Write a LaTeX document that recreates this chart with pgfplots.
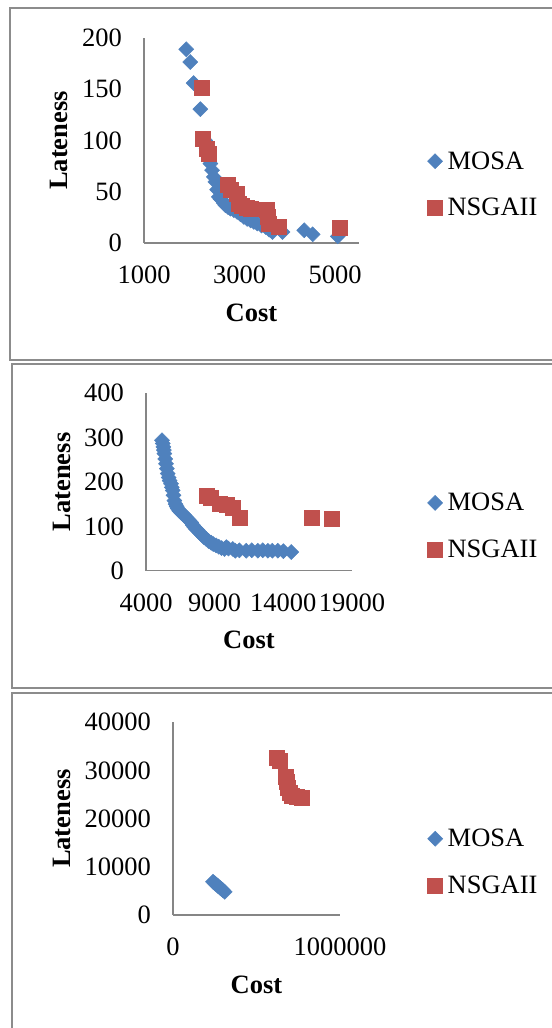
\documentclass[border=0pt]{standalone}
\usepackage{fontspec}
\setmainfont{Liberation Serif}
\usepackage{pgfplots}
\pgfplotsset{compat=1.18}
\definecolor{mosa}{HTML}{4F81BD}
\definecolor{nsga}{HTML}{C0504D}
\definecolor{axgray}{HTML}{868686}
\definecolor{framegray}{HTML}{8C8C8C}
\pgfplotsset{
 myaxis/.style={
  scale only axis, anchor=south west,
  axis lines*=left, axis line style={axgray, line width=1.5bp, -},
  major tick length=0pt,
  font=\fontsize{26.5bp}{31bp}\selectfont,
  /pgf/number format/assume math mode=true,
  scaled ticks=false,
  yticklabel style={anchor=east, inner sep=0pt, xshift=-22bp},
  xticklabel style={anchor=center, inner sep=0pt, yshift=-32bp},
  xlabel={Cost}, ylabel={Lateness},
  label style={font=\fontsize{26.5bp}{31bp}\selectfont\bfseries},
  clip=false,
  legend style={draw=none, fill=none, anchor=west, inner sep=0pt, row sep=27.5bp,
    nodes={inner sep=0pt}, /tikz/every odd column/.style={column sep=5bp}},
  legend cell align=left,
  legend image code/.code={\draw[mark repeat=1,#1] plot coordinates {(0bp,0bp)};},
 },
 mosa/.style={only marks, mark=square*, mark size=5.3bp, mark options={rotate=45, fill=mosa, draw=mosa, line width=0.5bp}},
 nsga/.style={only marks, mark=square*, mark size=7.5bp, mark options={fill=nsga, draw=nsga, line width=0.5bp}},
}
\begin{document}
\begin{tikzpicture}
\useasboundingbox (0bp,0bp) rectangle (552bp,1028bp);
% frames
\draw[framegray, line width=2bp] (552bp,1019.7bp) -- (10bp,1019.7bp) -- (10bp,668bp) -- (552bp,668bp);
\draw[framegray, line width=2bp] (552bp,664bp) -- (12bp,664bp) -- (12bp,340bp) -- (552bp,340bp);
\draw[framegray, line width=2bp] (552bp,335bp) -- (12bp,335bp) -- (12bp,-2bp);

% Panel 1
\begin{axis}[myaxis, at={(144bp,785bp)}, width=215bp, height=205bp,
  xmin=1000, xmax=5500, ymin=0, ymax=200,
  xtick={1000,3000,5000}, xticklabels={1000,3000,5000},
  ytick={0,50,100,150,200}, yticklabels={0,50,100,150,200},
  xlabel style={at={(axis description cs:0.5,-0.342)}, anchor=center},
  ylabel style={at={(axis description cs:-0.395,0.5)}, anchor=center},
  legend style={at={(axis description cs:1.318,0.2854)}}]
\addplot[mosa] coordinates {
(1884,189) (1968,176.5) (2039,156) (2179,130.6) (2280,100) (2310,92) (2340,86)
(2389,77.5) (2425,71) (2460,64.5) (2495,59.6) (2530,52) (2565,45) (2600,43)
(2635,41.7) (2670,39) (2705,36.8) (2760,35) (2810,33.5) (2880,32) (2951,30.3)
(3020,28) (3091,25.4) (3160,23.5) (3232,22) (3300,20.5) (3372,19) (3460,17)
(3547,15.6) (3620,13) (3688,10.7) (3898,10.7) (4354,12.4) (4530,8.5) (5056,6.5)};
\addlegendentry{MOSA}
\addplot[nsga] coordinates {
(2214,151.8) (2235,102) (2319,92) (2354,86.6) (2754,57.3) (2810,51.5) (2951,48)
(2986,38.4) (3050,36) (3150,34) (3232,33.5) (3568,32) (3582,25.4) (3617,19)
(3828,15.6) (5091,15)};
\addlegendentry{NSGAII}
\end{axis}

% Panel 2
\begin{axis}[myaxis, at={(146bp,457.3bp)}, width=206bp, height=177.4bp,
  xmin=4000, xmax=19000, ymin=0, ymax=400,
  xtick={4000,9000,14000,19000}, xticklabels={4000,9000,14000,19000},
  ytick={0,100,200,300,400}, yticklabels={0,100,200,300,400},
  xlabel style={at={(axis description cs:0.5,-0.39)}, anchor=center},
  ylabel style={at={(axis description cs:-0.41,0.5)}, anchor=center},
  legend style={at={(axis description cs:1.366,0.2508)}}]
\addplot[mosa] coordinates {
(5167,294) (5220,287) (5264,279) (5300,272) (5337,264) (5400,252) (5459,241)
(5520,230) (5580,219) (5650,210) (5720,203) (5823,196) (5880,188) (5945,181)
(6000,170) (6067,158) (6150,150) (6230,145) (6310,140) (6420,135) (6550,131)
(6680,128) (6796,125) (6900,121) (7020,117) (7150,113) (7282,109) (7400,103)
(7520,98) (7640,94) (7769,91) (7900,86) (8050,81) (8200,76) (8376,72) (8550,67)
(8750,63) (8900,60) (9106,57) (9300,54) (9500,51) (9714,49) (9850,53) (10000,50)
(10322,49) (10500,45) (10800,46) (11294,45) (11700,46) (12145,45) (12500,46)
(12875,45) (13200,45) (13600,45) (14000,44) (14576,42)};
\addlegendentry{MOSA}
\addplot[nsga] coordinates {
(8400,170) (8700,165) (9400,152) (9900,148) (10300,143) (10800,120) (16100,119) (17500,118)};
\addlegendentry{NSGAII}
\end{axis}

% Panel 3
\begin{axis}[myaxis, at={(173bp,113bp)}, width=167bp, height=192.7bp,
  xmin=0, xmax=1000000, ymin=0, ymax=40000,
  xtick={0,1000000}, xticklabels={0,1000000},
  ytick={0,10000,20000,30000,40000}, yticklabels={0,10000,20000,30000,40000},
  xlabel style={at={(axis description cs:0.5,-0.363)}, anchor=center},
  ylabel style={at={(axis description cs:-0.667,0.5)}, anchor=center},
  legend style={at={(axis description cs:1.524,0.275)}}]
\addplot[mosa] coordinates {
(240000,6900) (250000,6600) (260000,6300) (270000,6000) (280000,5700)
(290000,5400) (300000,5100) (310000,4800)};
\addlegendentry{MOSA}
\addplot[nsga] coordinates {
(621000,32700) (640000,32000) (676000,28700) (681000,27700) (690000,26500)
(697000,25300) (711000,24700) (740000,24600) (771000,24400)};
\addlegendentry{NSGAII}
\end{axis}
\end{tikzpicture}
\end{document}
